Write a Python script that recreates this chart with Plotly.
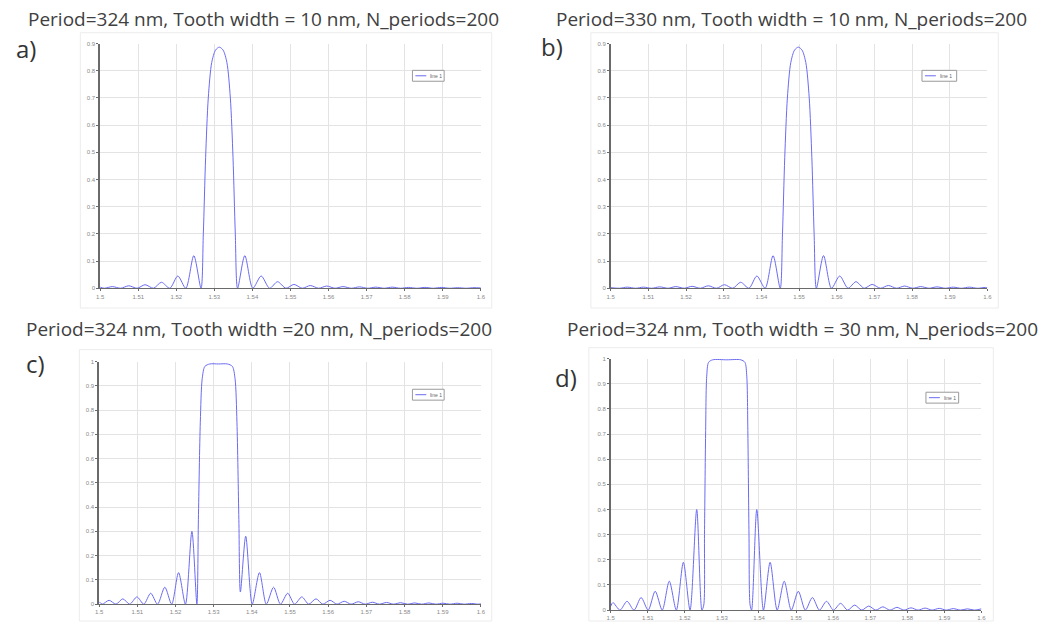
import plotly.graph_objects as go

# ---------------- data ----------------
x_ticks = [1.5, 1.51, 1.52, 1.53, 1.54, 1.55, 1.56, 1.57, 1.58, 1.59, 1.6]
x_tick_labels = ["1.5", "1.51", "1.52", "1.53", "1.54", "1.55", "1.56", "1.57", "1.58", "1.59", "1.6"]
y_ticks_ab = [0, 0.1, 0.2, 0.3, 0.4, 0.5, 0.6, 0.7, 0.8, 0.9]
y_labels_ab = ["0", "0.1", "0.2", "0.3", "0.4", "0.5", "0.6", "0.7", "0.8", "0.9"]
y_ticks_cd = [0, 0.1, 0.2, 0.3, 0.4, 0.5, 0.6, 0.7, 0.8, 0.9, 1]
y_labels_cd = ["0", "0.1", "0.2", "0.3", "0.4", "0.5", "0.6", "0.7", "0.8", "0.9", "1"]

titles = [
    "Period=324 nm, Tooth width = 10 nm, N_periods=200",
    "Period=330 nm, Tooth width = 10 nm, N_periods=200",
    "Period=324 nm, Tooth width =20 nm, N_periods=200",
    "Period=324 nm, Tooth width = 30 nm, N_periods=200",
]
panel_tags = ["a)", "b)", "c)", "d)"]
series_name = "line 1"

# panel a: period 324 nm, tooth 10 nm
wl_a = [1.5000, 1.5011, 1.5032, 1.5054, 1.5075, 1.5097, 1.5118, 1.5140, 1.5161, 1.5183,
        1.5204, 1.5225, 1.5246, 1.5265,
        1.5271, 1.5277, 1.5284, 1.5293, 1.5303, 1.5313, 1.5323, 1.5333, 1.5342, 1.5349, 1.5355,
        1.5361, 1.5380, 1.5401, 1.5423, 1.5445, 1.5466, 1.5488, 1.5509, 1.5531, 1.5552, 1.5574,
        1.5595, 1.5617, 1.5638, 1.5660, 1.5681, 1.5703, 1.5724, 1.5746, 1.5767, 1.5789, 1.5810,
        1.5832, 1.5853, 1.5875, 1.5896, 1.5918, 1.5939, 1.5961, 1.5982, 1.6000]
r_a = [0.004, 0.0, 0.006, 0.0, 0.009, 0.0, 0.013, 0.0, 0.022, 0.0,
       0.045, 0.0, 0.12, 0.0,
       0.20, 0.48, 0.70, 0.83, 0.876, 0.887, 0.876, 0.83, 0.70, 0.48, 0.20,
       0.0, 0.12, 0.0, 0.045, 0.0, 0.024, 0.0, 0.014, 0.0, 0.010, 0.0,
       0.008, 0.0, 0.006, 0.0, 0.005, 0.0, 0.004, 0.0, 0.004, 0.0, 0.003,
       0.0, 0.003, 0.0, 0.003, 0.0, 0.002, 0.0, 0.002, 0.001]

# panel b: period 330 nm, tooth 10 nm
wl_b = [1.5000, 1.5023, 1.5044, 1.5066, 1.5087, 1.5109, 1.5130, 1.5152, 1.5173, 1.5195,
        1.5216, 1.5238, 1.5259, 1.5281, 1.5302, 1.5324, 1.5345, 1.5367, 1.5388, 1.5410,
        1.5431, 1.5450,
        1.5456, 1.5462, 1.5469, 1.5478, 1.5488, 1.5498, 1.5508, 1.5518, 1.5527, 1.5534, 1.5540,
        1.5546, 1.5565, 1.5586, 1.5608, 1.5630, 1.5651, 1.5673, 1.5694, 1.5716, 1.5737, 1.5759,
        1.5780, 1.5802, 1.5823, 1.5845, 1.5866, 1.5888, 1.5909, 1.5931, 1.5952, 1.5974, 1.5995,
        1.6000]
r_b = [0.002, 0.0, 0.004, 0.0, 0.004, 0.0, 0.005, 0.0, 0.006, 0.0,
       0.007, 0.0, 0.009, 0.0, 0.013, 0.0, 0.022, 0.0, 0.045, 0.0,
       0.12, 0.0,
       0.20, 0.48, 0.70, 0.83, 0.876, 0.887, 0.876, 0.83, 0.70, 0.48, 0.20,
       0.0, 0.12, 0.0, 0.045, 0.0, 0.024, 0.0, 0.014, 0.0, 0.010, 0.0,
       0.008, 0.0, 0.006, 0.0, 0.005, 0.0, 0.004, 0.0, 0.004, 0.0, 0.003,
       0.002]

# panel c: period 324 nm, tooth 20 nm
wl_c = [1.5000, 1.5008, 1.5026, 1.5044, 1.5062, 1.5080, 1.5099, 1.5117, 1.5135, 1.5153,
        1.5172, 1.5190, 1.5208, 1.5226, 1.5243, 1.5256,
        1.5260, 1.5265, 1.5270, 1.5277, 1.5290, 1.5313, 1.5336, 1.5349, 1.5356, 1.5361, 1.5366,
        1.5370, 1.5384, 1.5401, 1.5420, 1.5438, 1.5457, 1.5475, 1.5494, 1.5512, 1.5531, 1.5549,
        1.5568, 1.5586, 1.5605, 1.5623, 1.5642, 1.5660, 1.5679, 1.5697, 1.5716, 1.5734, 1.5753,
        1.5771, 1.5790, 1.5808, 1.5827, 1.5845, 1.5864, 1.5882, 1.5901, 1.5919, 1.5938, 1.5956,
        1.5975, 1.5993, 1.6000]
r_c = [0.010, 0.0, 0.016, 0.0, 0.022, 0.0, 0.030, 0.0, 0.045, 0.0,
       0.070, 0.0, 0.13, 0.0, 0.30, 0.0,
       0.35, 0.75, 0.93, 0.98, 0.99, 0.99, 0.99, 0.98, 0.93, 0.75, 0.35,
       0.05, 0.28, 0.0, 0.13, 0.0, 0.070, 0.0, 0.045, 0.0, 0.030, 0.0,
       0.022, 0.0, 0.016, 0.0, 0.012, 0.0, 0.010, 0.0, 0.008, 0.0, 0.007,
       0.0, 0.006, 0.0, 0.005, 0.0, 0.005, 0.0, 0.004, 0.0, 0.004, 0.0,
       0.003, 0.0, 0.002]

# panel d: period 324 nm, tooth 30 nm
wl_d = [1.5000, 1.5006, 1.5025, 1.5044, 1.5063, 1.5082, 1.5101, 1.5120, 1.5139, 1.5158,
        1.5177, 1.5196, 1.5214, 1.5232, 1.5246,
        1.5251, 1.5253, 1.5256, 1.5259, 1.5264, 1.5275, 1.5313, 1.5351, 1.5362, 1.5367, 1.5370,
        1.5373, 1.5376,
        1.5380, 1.5394, 1.5412, 1.5430, 1.5449, 1.5468, 1.5487, 1.5506, 1.5525, 1.5544, 1.5563,
        1.5582, 1.5601, 1.5620, 1.5639, 1.5658, 1.5677, 1.5696, 1.5715, 1.5734, 1.5753, 1.5772,
        1.5791, 1.5810, 1.5829, 1.5848, 1.5867, 1.5886, 1.5905, 1.5924, 1.5943, 1.5962, 1.5981,
        1.6000]
r_d = [0.015, 0.030, 0.0, 0.035, 0.0, 0.050, 0.0, 0.075, 0.0, 0.115,
       0.0, 0.19, 0.0, 0.40, 0.0,
       0.02, 0.30, 0.70, 0.93, 0.985, 0.995, 0.995, 0.995, 0.985, 0.93, 0.70,
       0.30, 0.02,
       0.0, 0.40, 0.0, 0.19, 0.0, 0.115, 0.0, 0.075, 0.0, 0.050, 0.0,
       0.035, 0.0, 0.027, 0.0, 0.020, 0.0, 0.016, 0.0, 0.013, 0.0, 0.011,
       0.0, 0.009, 0.0, 0.008, 0.0, 0.007, 0.0, 0.006, 0.0, 0.005, 0.0,
       0.005]

# ---------------- styling / layout ----------------
W, H = 1039, 625
LINE_COLOR = "#6b6bf2"
GRID = "#e3e3e3"
AXIS = "#6a6a6a"
TICKFONT = dict(family="Liberation Sans, Arial", size=6, color="#8a8a8a")

def px(x):
    return x / W

def py(y):
    return 1 - y / H

# plot-area pixel boxes: (left, right, top, bottom)
boxes = [
    (97, 481, 41, 288),
    (612, 992, 41, 288),
    (96, 481, 362, 607),
    (612, 986, 359, 613),
]
frames = [
    (77, 492, 30, 308),
    (592, 1003, 30, 308),
    (76, 492, 350, 624),
    (590, 998, 348, 624),
]
# manual legend boxes: (left, right, top, bottom)
legend_boxes = [(412, 444, 68, 79), (926, 961, 68, 79), (412, 444, 390, 401), (930, 963, 393, 404)]
title_pos = [(262, 16), (794, 16), (257, 329), (805, 329)]
tag_pos = [(22, 46), (553, 44), (32, 364), (567, 378)]

data = [(wl_a, r_a), (wl_b, r_b), (wl_c, r_c), (wl_d, r_d)]
yt = [(y_ticks_ab, y_labels_ab, 0.9), (y_ticks_ab, y_labels_ab, 0.9),
      (y_ticks_cd, y_labels_cd, 1.0), (y_ticks_cd, y_labels_cd, 1.0)]

fig = go.Figure()
layout = dict(
    width=W, height=H, margin=dict(l=0, r=0, t=0, b=0),
    paper_bgcolor="white", plot_bgcolor="white",
    showlegend=False, annotations=[], shapes=[],
)

for i in range(4):
    sfx = "" if i == 0 else str(i + 1)
    wl, rr = data[i]
    fig.add_trace(go.Scatter(
        x=wl, y=rr, mode="lines", name=series_name,
        line=dict(color=LINE_COLOR, width=1, shape="spline", smoothing=0.8),
        xaxis="x" + sfx, yaxis="y" + sfx, cliponaxis=True,
    ))
    l, r, t, b = boxes[i]
    yv, ylab, ymax = yt[i]
    layout["xaxis" + sfx] = dict(
        domain=[px(l), px(r)], anchor="y" + sfx, range=[1.5, 1.6],
        tickvals=x_ticks, ticktext=x_tick_labels, tickfont=TICKFONT,
        showgrid=True, gridcolor=GRID, gridwidth=1, zeroline=False,
        showline=True, linecolor=AXIS, linewidth=1.2,
        ticks="outside", ticklen=2, tickcolor=AXIS,
    )
    layout["yaxis" + sfx] = dict(
        domain=[py(b), py(t)], anchor="x" + sfx, range=[0, ymax],
        tickvals=yv, ticktext=ylab, tickfont=TICKFONT,
        showgrid=True, gridcolor=GRID, gridwidth=1, zeroline=False,
        showline=True, linecolor=AXIS, linewidth=1.5,
        ticks="outside", ticklen=2, tickcolor=AXIS,
    )
    # outer light frame of each chart widget
    fl, fr, ft, fb = frames[i]
    layout["shapes"].append(dict(
        type="rect", xref="paper", yref="paper",
        x0=px(fl), x1=px(fr), y0=py(fb), y1=py(ft),
        line=dict(color="#ececec", width=1), layer="below",
    ))
    # small legend box "— line 1"
    bl, br, bt, bb = legend_boxes[i]
    layout["shapes"].append(dict(
        type="rect", xref="paper", yref="paper",
        x0=px(bl), x1=px(br), y0=py(bb), y1=py(bt),
        line=dict(color="#9a9a9a", width=1), fillcolor="white", layer="above",
    ))
    ym = (bt + bb) / 2
    layout["shapes"].append(dict(
        type="line", xref="paper", yref="paper",
        x0=px(bl + 3), x1=px(bl + 14), y0=py(ym), y1=py(ym),
        line=dict(color=LINE_COLOR, width=1), layer="above",
    ))
    layout["annotations"].append(dict(
        text=series_name, x=px(bl + 16), y=py(ym), xref="paper", yref="paper",
        xanchor="left", yanchor="middle", showarrow=False,
        font=dict(family="Liberation Sans, Arial", size=5, color="#666"),
    ))
    tx, ty = title_pos[i]
    layout["annotations"].append(dict(
        text=titles[i], x=px(tx), y=py(ty), xref="paper", yref="paper",
        xanchor="center", yanchor="middle", showarrow=False,
        font=dict(family="Open Sans", size=19, color="#404040"),
    ))
    gx, gy = tag_pos[i]
    layout["annotations"].append(dict(
        text=panel_tags[i], x=px(gx), y=py(gy), xref="paper", yref="paper",
        xanchor="center", yanchor="middle", showarrow=False,
        font=dict(family="Open Sans", size=24, color="#333"),
    ))

fig.update_layout(**layout)
fig.write_html("out.html")
